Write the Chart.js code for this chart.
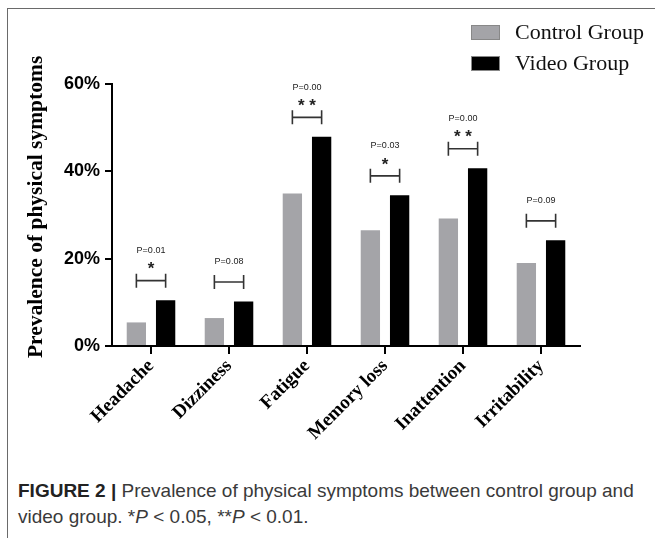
<!DOCTYPE html>
<html>
<head>
<meta charset="utf-8">
<script src="https://cdn.jsdelivr.net/npm/chart.js@4"></script>
<style>
  html, body { margin: 0; padding: 0; background: #fff; }
  body { width: 655px; height: 538px; position: relative; overflow: hidden; }
  #frame { position: absolute; left: 7px; top: 8px; right: -2px; bottom: -2px; border-left: 1px solid #6a6a6a; border-top: 1px solid #6a6a6a; }
  #wrap { position: absolute; left: 0; top: 0; width: 655px; height: 462px; }
  #caption { position: absolute; left: 18px; top: 478px; width: 632px; font-family: "Liberation Sans", Arial, sans-serif; font-size: 19px; line-height: 26px; color: #3a3a3a; }
  #caption b { color: #222; }
</style>
</head>
<body>
<div id="frame"></div>
<div id="wrap"><canvas id="c" width="655" height="462"></canvas></div>
<div id="caption"><b>FIGURE 2 |</b> Prevalence of physical symptoms between control group and video group. *<i>P</i> &lt; 0.05, **<i>P</i> &lt; 0.01.</div>
<script>
const categories = ["Headache", "Dizziness", "Fatigue", "Memory loss", "Inattention", "Irritability"];
const controlGroup = [5.4, 6.4, 34.9, 26.5, 29.2, 19.0];
const videoGroup = [10.5, 10.2, 47.9, 34.5, 40.7, 24.2];
const pValues = ["P=0.01", "P=0.08", "P=0.00", "P=0.03", "P=0.00", "P=0.09"];
const stars = ["*", "", "**", "*", "**", ""];
const yTicks = [0, 20, 40, 60];

const annotPlugin = {
  id: 'annot',
  afterDatasetsDraw(chart) {
    const ctx = chart.ctx;
    const m0 = chart.getDatasetMeta(0).data;
    const m1 = chart.getDatasetMeta(1).data;
    ctx.save();
    for (let i = 0; i < categories.length; i++) {
      const x1 = m0[i].x, x2 = m1[i].x;
      const top = Math.min(m0[i].y, m1[i].y);
      const by = top - 19.5;
      ctx.strokeStyle = '#333';
      ctx.lineWidth = 1.6;
      ctx.beginPath();
      ctx.moveTo(x1, by); ctx.lineTo(x2, by);
      ctx.moveTo(x1, by - 7); ctx.lineTo(x1, by + 7);
      ctx.moveTo(x2, by - 7); ctx.lineTo(x2, by + 7);
      ctx.stroke();
      const cx = (x1 + x2) / 2;
      ctx.textAlign = 'center';
      ctx.textBaseline = 'middle';
      ctx.fillStyle = '#222';
      if (stars[i]) {
        ctx.font = 'bold 17px "Liberation Sans", Arial, sans-serif';
        ctx.fillText(stars[i].split('').join(' '), cx, by - 11);
        ctx.font = '9px "Liberation Sans", Arial, sans-serif';
        ctx.fillText(pValues[i], cx, by - 30);
      } else {
        ctx.font = '9px "Liberation Sans", Arial, sans-serif';
        ctx.fillText(pValues[i], cx, by - 20);
      }
    }
    // legend
    const ds = chart.data.datasets;
    ds.forEach((d, j) => {
      const y = 25 + j * 31;
      ctx.fillStyle = d.backgroundColor;
      ctx.fillRect(471, y, 29, 15);
      ctx.strokeStyle = '#888';
      ctx.lineWidth = 1;
      ctx.strokeRect(471.5, y + 0.5, 28, 14);
      ctx.fillStyle = '#111';
      ctx.font = '22px "Liberation Serif", "Times New Roman", serif';
      ctx.textAlign = 'left';
      ctx.textBaseline = 'middle';
      ctx.fillText(d.label, 515, y + 8);
    });
    ctx.restore();
  }
};

new Chart(document.getElementById('c'), {
  type: 'bar',
  data: {
    labels: categories,
    datasets: [
      { label: 'Control Group', data: controlGroup, backgroundColor: '#a4a4a8', categoryPercentage: 0.75, barPercentage: 0.66 },
      { label: 'Video Group', data: videoGroup, backgroundColor: '#000000', categoryPercentage: 0.75, barPercentage: 0.66 }
    ]
  },
  options: {
    responsive: false,
    animation: false,
    layout: { padding: { top: 84, right: 75, left: 0, bottom: 0 } },
    plugins: { legend: { display: false }, tooltip: { enabled: false } },
    scales: {
      x: {
        afterFit(s) { s.height = 116; },
        grid: { offset: false, drawOnChartArea: false, drawTicks: true, tickLength: 8, color: '#000', lineWidth: 2 },
        border: { display: true, color: '#000', width: 2 },
        ticks: { color: '#000', minRotation: 45, maxRotation: 45, padding: 1, font: { family: '"Liberation Serif", "Times New Roman", serif', size: 19, weight: 'bold' } }
      },
      y: {
        min: 0, max: 60,
        afterFit(s) { s.width = 112; },
        afterBuildTicks(s) { s.ticks = yTicks.map(v => ({ value: v })); },
        grid: { drawOnChartArea: false, drawTicks: true, tickLength: 7, color: '#000', lineWidth: 2 },
        border: { display: true, color: '#000', width: 2 },
        ticks: { color: '#000', padding: 5, callback: v => v + '%', font: { family: '"Liberation Sans", Arial, sans-serif', size: 18, weight: 'bold' } },
        title: { display: true, text: '   Prevalence of physical symptoms', color: '#000', padding: { top: 24, bottom: 0 }, font: { family: '"Liberation Serif", "Times New Roman", serif', size: 21.5, weight: 'bold' } }
      }
    }
  },
  plugins: [annotPlugin]
});
</script>
</body>
</html>
